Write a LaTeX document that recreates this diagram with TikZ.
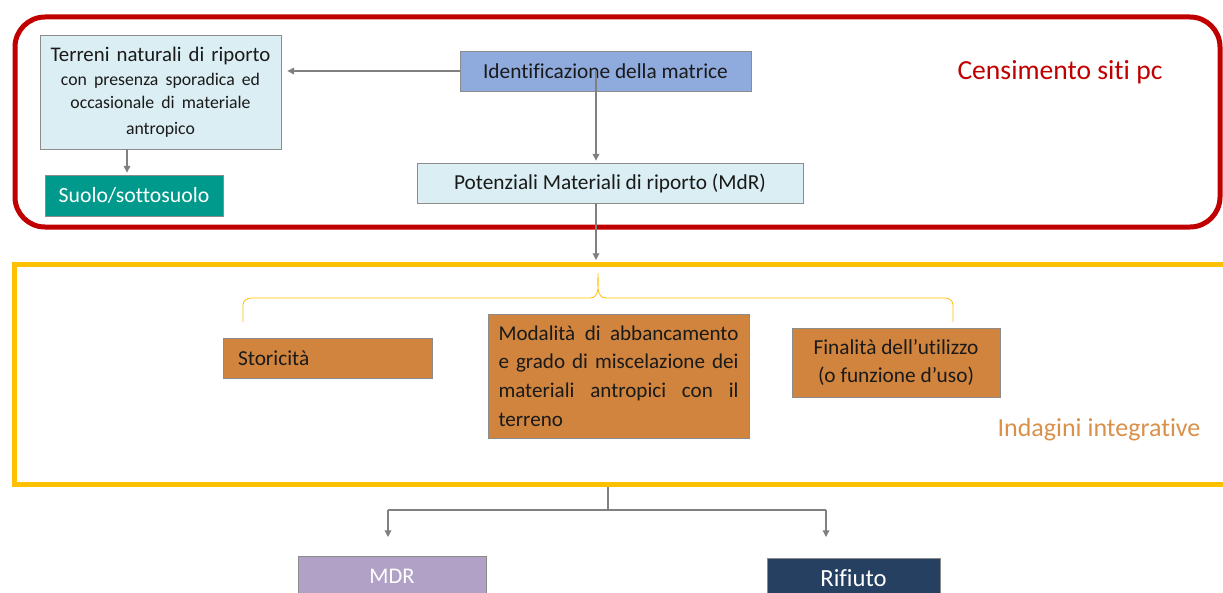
\documentclass[tikz,border=0pt]{standalone}
\usepackage{fontspec}
\setmainfont{Carlito}[Ligatures=CommonOff]
\usetikzlibrary{arrows.meta}
\definecolor{redline}{HTML}{C00000}
\definecolor{yellowline}{HTML}{FFC000}
\definecolor{lightblue}{HTML}{DAEEF3}
\definecolor{identblue}{HTML}{8FAADC}
\definecolor{teal}{HTML}{009A8C}
\definecolor{orangebox}{HTML}{D0843D}
\definecolor{boxborder}{HTML}{8C8C8C}
\definecolor{mdrpurple}{HTML}{B2A1C7}
\definecolor{navy}{HTML}{254061}
\definecolor{conn}{HTML}{808080}
\definecolor{indag}{HTML}{D9914A}
\definecolor{txt}{HTML}{1A1A1A}
\tikzset{
  box/.style={draw=boxborder, line width=0.6pt, inner sep=0pt, text=txt,
    font=\fontsize{16}{19}\selectfont},
  arr/.style={draw=conn, line width=0.9pt, -{Triangle[width=5pt,length=5pt]}},
  plain/.style={draw=conn, line width=0.9pt},
}
\begin{document}
\begin{tikzpicture}[x=0.75pt,y=-0.75pt]
\useasboundingbox (0,0) rectangle (1223,592);
% frames
\draw[redline, line width=3.75pt, rounded corners=22.5pt] (15,17) rectangle (1220,227);
\draw[yellowline, line width=3.75pt] (14,264) rectangle (1250,484);
\node[text=redline, font=\fontsize{20.7}{24}\selectfont] (cens) at (1060,72) {Censimento siti pc};
\node[text=indag, font=\fontsize{19.5}{23}\selectfont] (indag) at (1099,430) {Indagini integrative};
% top nodes
\node[box, fill=lightblue, minimum width=180.75pt, minimum height=85.5pt, text width=176pt, align=center] (terreni) at (160.5,92)
  {\fontsize{15.6}{18}\selectfont Terreni naturali di riporto\\[1pt]\fontsize{13.3}{17.25}\selectfont con presenza sporadica ed\\ occasionale di materiale\\ antropico};
\node[box, fill=teal, text=white, minimum width=133.5pt, minimum height=30.75pt, font=\fontsize{16.3}{19}\selectfont] (suolo) at (134,195.5) {Suolo/sottosuolo};
\node[box, fill=identblue, minimum width=218.25pt, minimum height=30pt] (ident) at (605.5,71) {Identificazione della matrice};
\node[box, fill=lightblue, minimum width=289.5pt, minimum height=30pt] (pot) at (610,183) {Potenziali Materiali di riporto (MdR)};
% orange nodes
\node[box, fill=orangebox, minimum width=156.75pt, minimum height=30pt, text width=134.25pt, align=left] (stor) at (327.5,358) {Storicità};
\node[box, fill=orangebox, minimum width=195.75pt, minimum height=93pt, text width=180pt, align=justify, font=\fontsize{15.8}{21.5}\selectfont] (moda) at (618.5,376)
  {Modalità di \mbox{abbancamento} e grado di \mbox{miscelazione} dei \mbox{materiali} \mbox{antropici} con il \mbox{terreno}};
\node[box, fill=orangebox, minimum width=156pt, minimum height=51.75pt, align=center, font=\fontsize{16}{21.5}\selectfont] (fina) at (896,362.5)
  {Finalità dell’utilizzo\\(o funzione d’uso)};
% bottom nodes
\node[box, fill=mdrpurple, text=white, minimum width=141pt, minimum height=30pt, font=\fontsize{16.8}{19}\selectfont] (mdr) at (392,576) {MDR};
\node[box, fill=navy, text=white, minimum width=129.75pt, minimum height=30pt, font=\fontsize{18.5}{21}\selectfont] (rif) at (853.5,578) {Rifiuto};
% connectors
\draw[arr, shorten >=4.5pt] (ident.west) -- (ident.west -| terreni.east);
\draw[arr, shorten >=1.5pt] ([xshift=-7.125pt]ident.center) -- ([xshift=-10.5pt]pot.north);
\draw[arr, shorten >=1.5pt] ([xshift=-25.125pt]terreni.south) -- ([xshift=-5.25pt]suolo.north);
\coordinate (ytop) at (596,260);
\draw[arr] ([xshift=-10.5pt]pot.south) -- (ytop);
% brace
\draw[yellowline, line width=0.6pt] (243,322) -- (243,305) to[out=90,in=180] (251,298) -- (590,298) to[out=0,in=-90] (598,273)
  to[out=-90,in=180] (606,298) -- (945,298) to[out=0,in=90] (953,305) -- (953,322);
% bottom connectors
\coordinate (ybot) at (608,487);
\coordinate (split) at (608,510);
\coordinate (lsplit) at (388,510);
\coordinate (rsplit) at (826,510);
\coordinate (lend) at (388,537);
\coordinate (rend) at (826,537);
\draw[plain] (ybot) -- (split);
\draw[plain] (lsplit) -- (rsplit);
\draw[arr] (lsplit) -- (lend);
\draw[arr] (rsplit) -- (rend);
\end{tikzpicture}
\end{document}
